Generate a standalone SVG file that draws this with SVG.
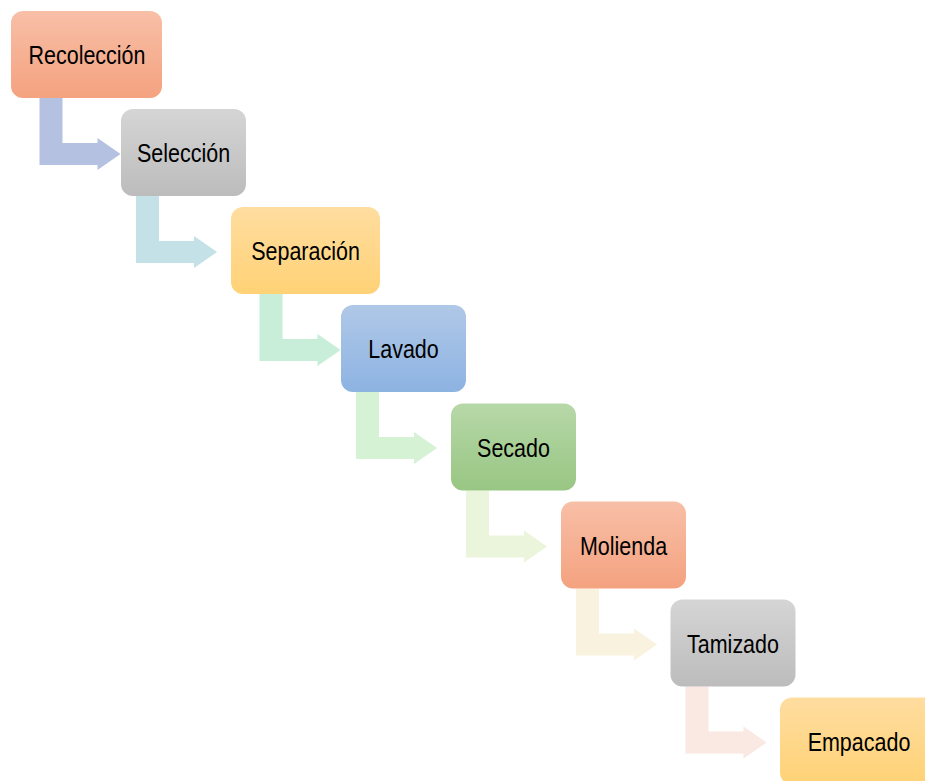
<svg xmlns="http://www.w3.org/2000/svg" xmlns:xlink="http://www.w3.org/1999/xlink" width="925" height="781" viewBox="0 0 925 781">
  <defs>
    <linearGradient id="gOrange" x1="0" y1="0" x2="0" y2="1">
      <stop offset="0" stop-color="#F8BFA7"/>
      <stop offset="1" stop-color="#F4A27F"/>
    </linearGradient>
    <linearGradient id="gGray" x1="0" y1="0" x2="0" y2="1">
      <stop offset="0" stop-color="#D5D5D5"/>
      <stop offset="1" stop-color="#BCBCBC"/>
    </linearGradient>
    <linearGradient id="gYellow" x1="0" y1="0" x2="0" y2="1">
      <stop offset="0" stop-color="#FFDDA0"/>
      <stop offset="1" stop-color="#FFD276"/>
    </linearGradient>
    <linearGradient id="gBlue" x1="0" y1="0" x2="0" y2="1">
      <stop offset="0" stop-color="#B0C8E7"/>
      <stop offset="1" stop-color="#8DB3E2"/>
    </linearGradient>
    <linearGradient id="gGreen" x1="0" y1="0" x2="0" y2="1">
      <stop offset="0" stop-color="#B7D8A8"/>
      <stop offset="1" stop-color="#98C683"/>
    </linearGradient>
    <path id="bentArrow" d="M15,87 H38 V132 H73 V127 L96,143 L73,159 V154 H15 Z"/>
  </defs>
  <style>
    .box { stroke: none; }
    .lbl { font-family: "Liberation Sans", Arial, sans-serif; font-size: 25px; fill: #000; text-anchor: middle; }
  </style>
  <rect width="925" height="781" fill="#FFFFFF"/>

  <g id="connectors">
    <use xlink:href="#bentArrow" href="#bentArrow" transform="translate(24.5,11)" fill="#B4C1E1"/>
    <use xlink:href="#bentArrow" href="#bentArrow" transform="translate(121,109)" fill="#C4E1E7"/>
    <use xlink:href="#bentArrow" href="#bentArrow" transform="translate(244.5,207)" fill="#C8EEDA"/>
    <use xlink:href="#bentArrow" href="#bentArrow" transform="translate(341,305)" fill="#D5F2D5"/>
    <use xlink:href="#bentArrow" href="#bentArrow" transform="translate(451,403.5)" fill="#EBF5DB"/>
    <use xlink:href="#bentArrow" href="#bentArrow" transform="translate(561,501.5)" fill="#F8F2DF"/>
    <use xlink:href="#bentArrow" href="#bentArrow" transform="translate(670.5,599.5)" fill="#FAE8E3"/>
  </g>

  <g id="recoleccion">
    <rect class="box" x="11" y="11" width="151" height="87" rx="12" fill="url(#gOrange)"/>
    <text class="lbl" transform="translate(87,64.3) scale(0.86,1)">Recolección</text>
  </g>
  <g id="seleccion">
    <rect class="box" x="121" y="109" width="125" height="87" rx="12" fill="url(#gGray)"/>
    <text class="lbl" transform="translate(183.5,162.3) scale(0.86,1)">Selección</text>
  </g>
  <g id="separacion">
    <rect class="box" x="231" y="207" width="149" height="87" rx="12" fill="url(#gYellow)"/>
    <text class="lbl" transform="translate(305.5,260.3) scale(0.86,1)">Separación</text>
  </g>
  <g id="lavado">
    <rect class="box" x="341" y="305" width="125" height="87" rx="12" fill="url(#gBlue)"/>
    <text class="lbl" transform="translate(403.5,358.3) scale(0.86,1)">Lavado</text>
  </g>
  <g id="secado">
    <rect class="box" x="451" y="403.5" width="125" height="87" rx="12" fill="url(#gGreen)"/>
    <text class="lbl" transform="translate(513.5,456.8) scale(0.86,1)">Secado</text>
  </g>
  <g id="molienda">
    <rect class="box" x="561" y="501.5" width="125" height="87" rx="12" fill="url(#gOrange)"/>
    <text class="lbl" transform="translate(623.5,554.8) scale(0.86,1)">Molienda</text>
  </g>
  <g id="tamizado">
    <rect class="box" x="670.5" y="599.5" width="125" height="87" rx="12" fill="url(#gGray)"/>
    <text class="lbl" transform="translate(733,652.8) scale(0.86,1)">Tamizado</text>
  </g>
  <g id="empacado">
    <rect class="box" x="780" y="697.5" width="158" height="87" rx="12" fill="url(#gYellow)"/>
    <text class="lbl" transform="translate(859,750.8) scale(0.86,1)">Empacado</text>
  </g>
</svg>
